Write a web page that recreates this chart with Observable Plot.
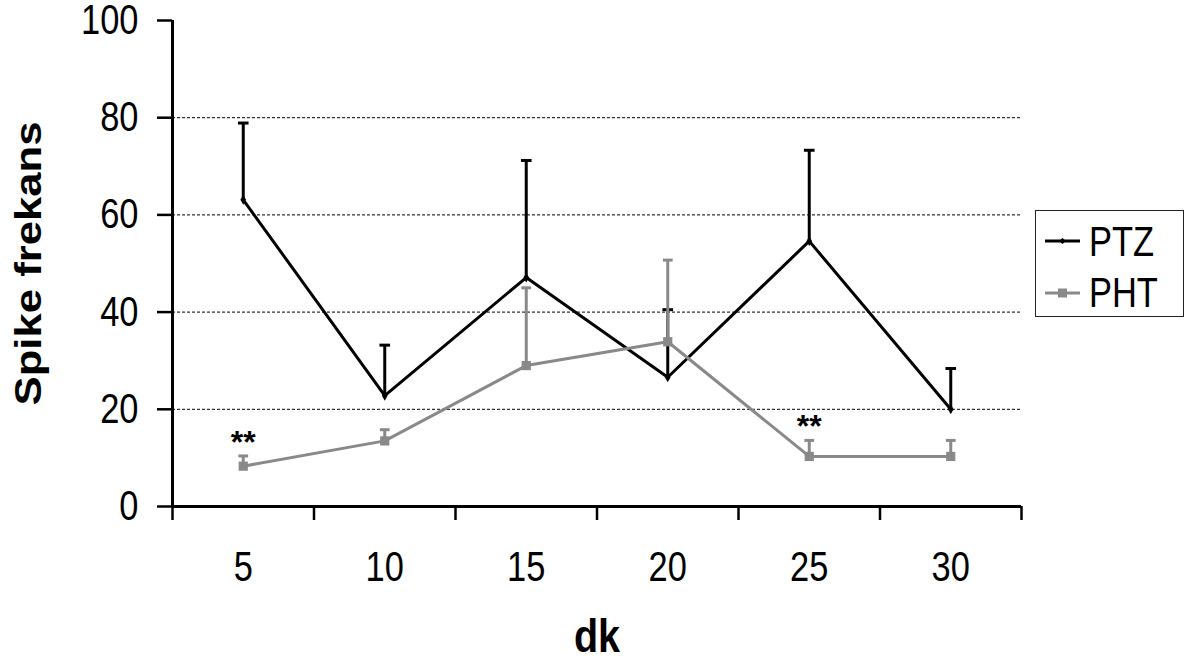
<!DOCTYPE html>
<html>
<head>
<meta charset="utf-8">
<script src="https://cdn.jsdelivr.net/npm/d3@7"></script>
<script src="https://cdn.jsdelivr.net/npm/@observablehq/plot@0.6"></script>
<style>
  body { margin: 0; background: #fff; }
  #wrap { position: relative; width: 1191px; height: 662px; overflow: hidden;
          font-family: "Liberation Sans", Arial, sans-serif; }
  #chart svg { display: block; }
  #legend { position: absolute; left: 1035px; top: 210px; width: 149px; height: 107px;
            border: 1px solid #222; box-sizing: border-box; background: #fff; }
  .lrow { position: absolute; left: 0; height: 42px; line-height: 42px; font-size: 42px; color: #000; white-space: nowrap; }
  .lrow svg { position: absolute; left: 9px; }
  .lrow span { position: absolute; left: 53px; top: 0; transform: scaleX(0.82); transform-origin: 0 50%; }
</style>
</head>
<body>
<div id="wrap">
  <div id="chart"></div>
  <div id="legend"></div>
</div>
<script>
// ---- data ----
const dk = [5, 10, 15, 20, 25, 30];
const ptzMean  = [63.1, 22.8, 47.1, 26.6, 54.6, 20.0];
const ptzUpper = [78.9, 33.2, 71.2, 40.5, 73.3, 28.4];
const phtMean  = [8.3, 13.5, 29.0, 33.9, 10.3, 10.3];
const phtUpper = [10.4, 15.8, 45.0, 50.7, 13.6, 13.6];
const seriesNames = ["PTZ", "PHT"];
const seriesColors = ["#000000", "#898989"];
const yTicks = [0, 20, 40, 60, 80, 100];
const gridTicks = [20, 40, 60, 80];
const xBoundaryTicks = [2.5, 7.5, 12.5, 17.5, 22.5, 27.5, 32.5];
const sigDk = [5, 25];
const sigLabel = ["**", "**"];
const xTitle = "dk";
const yTitle = "Spike frekans";

// ---- tables ----
const ptz = dk.map((d, i) => ({dk: d, mean: ptzMean[i], upper: ptzUpper[i]}));
const pht = dk.map((d, i) => ({dk: d, mean: phtMean[i], upper: phtUpper[i]}));
const sig = sigDk.map((d, i) => ({dk: d, label: sigLabel[i], y: phtUpper[dk.indexOf(d)]}));

const capSymbol = {
  draw(context, size) {
    const w = Math.sqrt(size);
    context.moveTo(-w / 2, 0);
    context.lineTo(w / 2, 0);
  }
};

const chart = Plot.plot({
  width: 1191,
  height: 662,
  marginLeft: 172,
  marginRight: 170,
  marginTop: 20,
  marginBottom: 156,
  style: {fontFamily: '"Liberation Sans", Arial, sans-serif', color: "#000", background: "#fff", overflow: "visible"},
  x: {type: "linear", domain: [2.5, 32.5]},
  y: {domain: [0, 100]},
  marks: [
    Plot.ruleY(gridTicks, {stroke: "#000", strokeWidth: 1, strokeDasharray: "3,2"}),
    Plot.axisY({ticks: yTicks, tickSize: 15, tickPadding: 19, fontSize: 42, label: null, strokeWidth: 2.5}),
    Plot.axisX({ticks: xBoundaryTicks, tickSize: 14, tickFormat: () => "", label: null, strokeWidth: 2.5}),
    Plot.axisX({ticks: dk, tickSize: 0, tickPadding: 45, fontSize: 42, label: null, tickFormat: d => String(d)}),
    Plot.ruleX([2.5], {strokeWidth: 3}),
    Plot.ruleY([0], {strokeWidth: 3}),
    // PTZ
    Plot.ruleX(ptz, {x: "dk", y1: "mean", y2: "upper", stroke: seriesColors[0], strokeWidth: 3}),
    Plot.dot(ptz, {x: "dk", y: "upper", symbol: capSymbol, r: 6, stroke: seriesColors[0], strokeWidth: 3, fill: "none"}),
    Plot.line(ptz, {x: "dk", y: "mean", stroke: seriesColors[0], strokeWidth: 3}),
    Plot.dot(ptz, {x: "dk", y: "mean", symbol: "diamond", r: 3, fill: seriesColors[0], stroke: null}),
    // PHT
    Plot.ruleX(pht, {x: "dk", y1: "mean", y2: "upper", stroke: seriesColors[1], strokeWidth: 3}),
    Plot.dot(pht, {x: "dk", y: "upper", symbol: capSymbol, r: 5.5, stroke: seriesColors[1], strokeWidth: 3, fill: "none"}),
    Plot.line(pht, {x: "dk", y: "mean", stroke: seriesColors[1], strokeWidth: 3}),
    Plot.dot(pht, {x: "dk", y: "mean", symbol: "square", r: 5.2, fill: seriesColors[1], stroke: null}),
    // significance
    Plot.text(sig, {x: "dk", y: "y", text: "label", lineAnchor: "bottom", dy: -3, fontSize: 32, fontWeight: "bold", fill: "#000"}),
    // axis titles
    Plot.text([xTitle], {frameAnchor: "bottom", textAnchor: "middle", dy: 131, fontSize: 44, fontWeight: "bold", lineAnchor: "middle", fill: "#000"}),
    Plot.text([yTitle], {frameAnchor: "left", textAnchor: "middle", dx: -143, rotate: -90, fontSize: 37, fontWeight: "bold",
                         lineAnchor: "middle", fill: "#000"})
  ]
});

// text proportions: the reference's text is taller than it is wide
const tickLabels = new Set(yTicks.map(String).concat(dk.map(String)));
d3.select(chart).selectAll("text").each(function() {
  const t = this.textContent;
  const tr = this.getAttribute("transform") || "";
  if (t === yTitle) this.setAttribute("transform", tr + " scale(1.18,1)");
  else if (t === xTitle) this.setAttribute("transform", tr + " scale(0.9,1.05)");
  else if (tickLabels.has(t)) this.setAttribute("transform", tr + " scale(0.82,1)");
});

document.getElementById("chart").appendChild(chart);

// ---- legend ----
const legend = document.getElementById("legend");
const rowTops = [10, 61];
seriesNames.forEach((name, i) => {
  const row = document.createElement("div");
  row.className = "lrow";
  row.style.top = rowTops[i] + "px";
  const marker = i === 0
    ? `<path d="M17.5,9 L21,12 L17.5,15 L14,12 Z" fill="${seriesColors[i]}"/>`
    : `<rect x="13" y="7.5" width="9" height="9" fill="${seriesColors[i]}"/>`;
  row.innerHTML = `<svg width="36" height="24" viewBox="0 0 36 24" style="top:${i === 0 ? 8 : 9}px">
      <line x1="0" y1="12" x2="35" y2="12" stroke="${seriesColors[i]}" stroke-width="3"/>${marker}</svg><span>${name}</span>`;
  legend.appendChild(row);
});
</script>
</body>
</html>
